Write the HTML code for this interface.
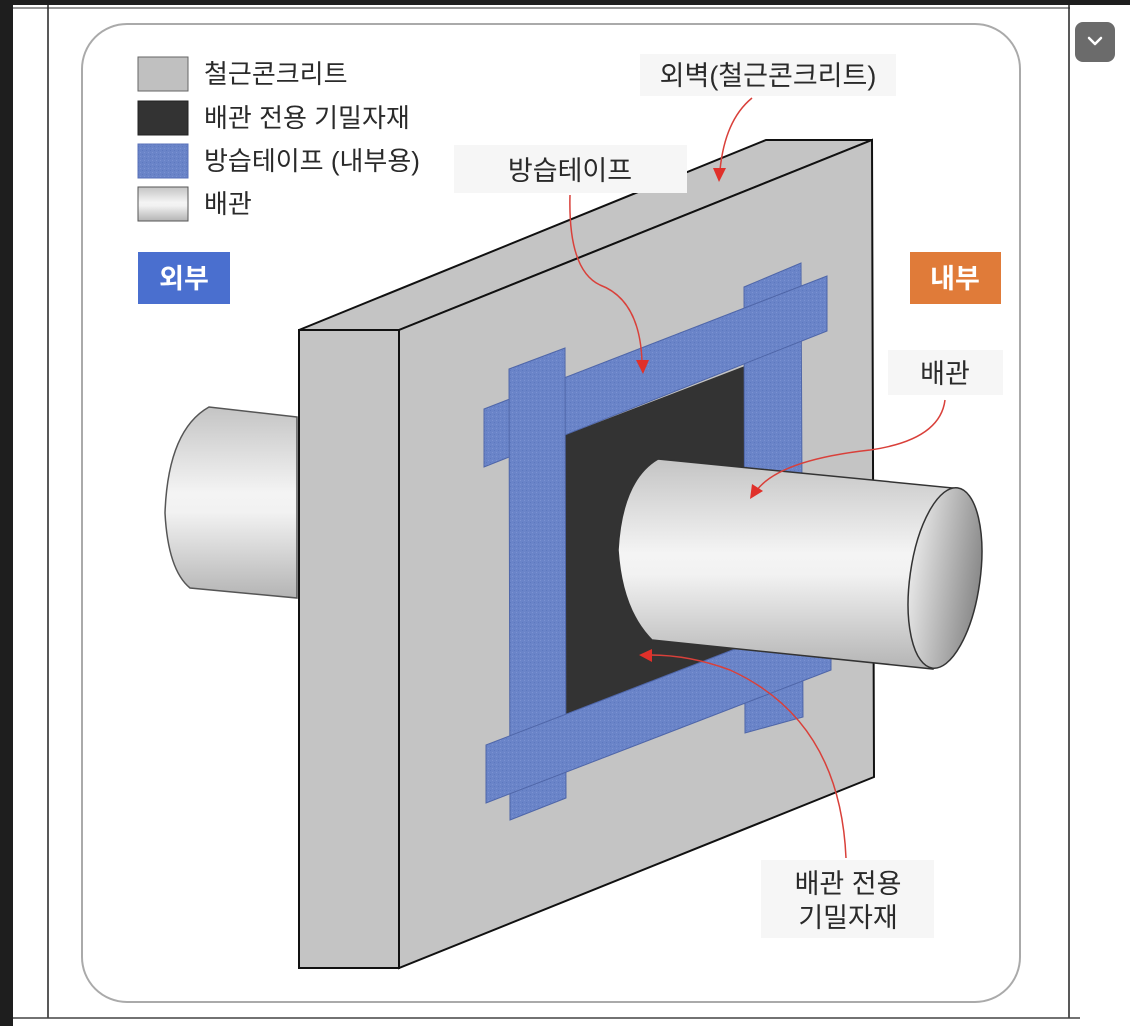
<!DOCTYPE html>
<html><head><meta charset="utf-8"><style>
html,body{margin:0;padding:0;background:#fff;}
body{width:1130px;height:1026px;overflow:hidden;position:relative;font-family:"Liberation Sans","Noto Sans CJK KR",sans-serif;}
svg text{font-family:"Liberation Sans","Noto Sans CJK KR",sans-serif;}
</style></head><body>
<svg width="1130" height="1026" viewBox="0 0 1130 1026" xmlns="http://www.w3.org/2000/svg">
<defs>
<linearGradient id="pg" x1="0" y1="0" x2="0" y2="1">
<stop offset="0" stop-color="#c4c4c4"/><stop offset="0.45" stop-color="#f4f4f4"/><stop offset="0.55" stop-color="#f2f2f2"/><stop offset="1" stop-color="#b4b4b4"/>
</linearGradient>
<linearGradient id="eg" x1="0" y1="0" x2="1" y2="0">
<stop offset="0" stop-color="#e6e6e6"/><stop offset="1" stop-color="#8a8a8a"/>
</linearGradient>
<pattern id="tp" width="4" height="4" patternUnits="userSpaceOnUse">
<rect width="4" height="4" fill="#6a84c8"/><rect width="1" height="1" fill="#7b92d2"/><rect x="2" y="2" width="1" height="1" fill="#5d78bf"/>
</pattern>
</defs>
<!-- chrome -->
<rect x="0" y="0" width="1130" height="5" fill="#1e1e1e"/>
<rect x="0" y="0" width="13" height="1026" fill="#1e1e1e"/>
<line x1="13" y1="8" x2="1070" y2="8" stroke="#777" stroke-width="1.5"/>
<line x1="48" y1="5" x2="48" y2="1018" stroke="#222" stroke-width="1.5"/>
<line x1="1069" y1="5" x2="1069" y2="1018" stroke="#222" stroke-width="1.5"/>
<line x1="13" y1="1018" x2="1080" y2="1018" stroke="#444" stroke-width="1.5"/>
<rect x="1075" y="22" width="40" height="40" rx="8" fill="#6b6b6b"/>
<path d="M1089 38 L1095 44 L1101 38" fill="none" stroke="#fff" stroke-width="2.5" stroke-linecap="round" stroke-linejoin="round"/>
<rect x="82" y="24" width="938" height="978" rx="45" fill="#fff" stroke="#aaa" stroke-width="2"/>

<!-- legend -->
<rect x="138" y="57" width="50" height="34" fill="#c0c0c0" stroke="#666" stroke-width="1"/>
<rect x="138" y="101" width="50" height="34" fill="#333" stroke="#222" stroke-width="1"/>
<rect x="138" y="144" width="50" height="34" fill="url(#tp)" stroke="#5870b8" stroke-width="1"/>
<rect x="138" y="187" width="50" height="34" fill="url(#pg)" stroke="#555" stroke-width="1"/>
<g font-size="26" fill="#2a2a2a">
<text x="204" y="83">철근콘크리트</text>
<text x="204" y="127">배관 전용 기밀자재</text>
<text x="204" y="170">방습테이프 (내부용)</text>
<text x="204" y="213">배관</text>
</g>
<rect x="138" y="252" width="92" height="52" fill="#4a6fcf"/>
<text x="184" y="288" font-size="27" font-weight="bold" fill="#fff" text-anchor="middle">외부</text>
<rect x="910" y="252" width="91" height="52" fill="#e07b39"/>
<text x="955" y="288" font-size="27" font-weight="bold" fill="#fff" text-anchor="middle">내부</text>

<!-- left pipe -->
<path d="M297 417 L209 407 Q168 430 165 513 Q168 570 190 588 L297 598 Z" fill="url(#pg)" stroke="#555" stroke-width="1.5"/>

<!-- wall -->
<polygon points="299,330 766,140 872,140 399,330" fill="#c4c4c4" stroke="#111" stroke-width="2"/>
<polygon points="299,330 399,330 399,968 299,968" fill="#c4c4c4" stroke="#111" stroke-width="2"/>
<polygon points="399,330 872,140 874,777 399,968" fill="#c4c4c4" stroke="#111" stroke-width="2"/>

<!-- black seal -->
<polygon points="560,437 750,364 750,646 560,718" fill="#333"/>
<!-- tapes -->
<polygon points="744,287 801,263 803,717 745,733" fill="url(#tp)" stroke="#4f66a8" stroke-width="1"/>
<polygon points="484,409 827,276 827,331 484,467" fill="url(#tp)" stroke="#4f66a8" stroke-width="1"/>
<polygon points="509,369 565,348 566,798 510,820" fill="url(#tp)" stroke="#4f66a8" stroke-width="1"/>
<polygon points="486,745 831,612 831,670 486,803" fill="url(#tp)" stroke="#4f66a8" stroke-width="1"/>

<!-- right pipe -->
<path d="M658 459 L953 488 L933 669 L652 640 Q622 610 618 550 Q622 480 658 459 Z" fill="url(#pg)" stroke="#333" stroke-width="1.5"/>
<ellipse cx="945" cy="578" rx="35" ry="91" transform="rotate(8 945 578)" fill="url(#eg)" stroke="#333" stroke-width="1.5"/>

<!-- label boxes -->
<rect x="640" y="54" width="256" height="42" fill="#f6f6f6"/>
<text x="768" y="85" font-size="27" fill="#2a2a2a" text-anchor="middle">외벽(철근콘크리트)</text>
<rect x="454" y="145" width="233" height="48" fill="#f6f6f6"/>
<text x="570" y="180" font-size="27" fill="#2a2a2a" text-anchor="middle">방습테이프</text>
<rect x="888" y="350" width="115" height="45" fill="#f6f6f6"/>
<text x="945" y="383" font-size="27" fill="#2a2a2a" text-anchor="middle">배관</text>
<rect x="761" y="860" width="173" height="78" fill="#f6f6f6"/>
<text x="848" y="893" font-size="27" fill="#2a2a2a" text-anchor="middle">배관 전용</text>
<text x="848" y="927" font-size="27" fill="#2a2a2a" text-anchor="middle">기밀자재</text>

<!-- arrows -->
<g fill="none" stroke="#d9403a" stroke-width="1.5">
<path d="M752 98 Q725 120 720 170"/>
<path d="M570 195 Q568 270 600 285 Q640 300 642 362"/>
<path d="M945 400 Q940 440 870 450 Q780 460 757 490"/>
<path d="M846 858 Q840 720 730 670 Q690 655 650 655"/>
</g>
<g fill="#e0302a">
<polygon points="713,168 726,168 719,182"/>
<polygon points="636,360 649,360 643,374"/>
<polygon points="752,484 763,491 750,499"/>
<polygon points="652,649 652,662 639,655"/>
</g>
</svg>
</body></html>
